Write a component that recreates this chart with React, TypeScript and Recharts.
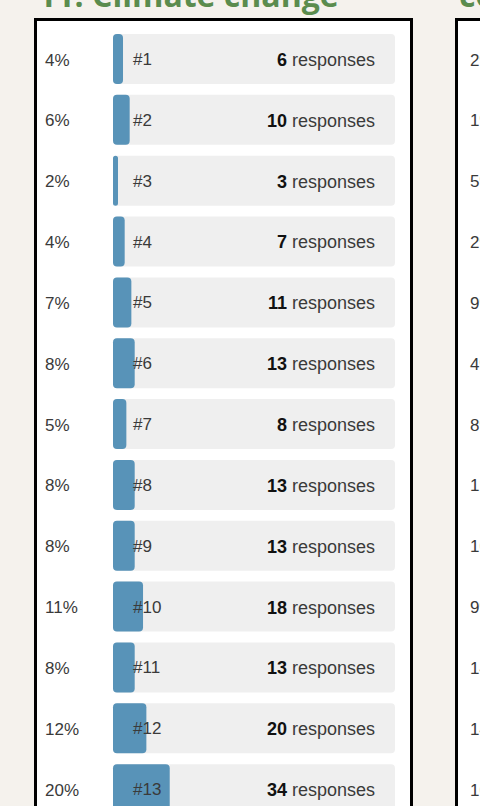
import { BarChart, Bar, XAxis, YAxis, LabelList } from 'recharts'

// rank labels shared by both cards
const ranks = ['#1', '#2', '#3', '#4', '#5', '#6', '#7', '#8', '#9', '#10', '#11', '#12', '#13']

// 11. Climate change
const climatePct = [4, 6, 2, 4, 7, 8, 5, 8, 8, 11, 8, 12, 20]
const climateResponses = [6, 10, 3, 7, 11, 13, 8, 13, 13, 18, 13, 20, 34]

// next card, only its first column is in view
const nextPct = [2, 1, 5, 2, 9, 4, 8, 12, 10, 9, 14, 14, 10]
const nextResponses = [3, 2, 8, 4, 15, 7, 14, 20, 17, 15, 24, 24, 17]

const BAR = '#5893b8'
const TRACK = '#efefef'
const TEXT = '#3a3a3a'
const FONT = '"Liberation Sans", Arial, sans-serif'

interface RankCardProps {
  title: string
  pct: number[]
  responses: number[]
  left: number
  pctX: number
}

function RankCard({ title, pct, responses, left, pctX }: RankCardProps) {
  const total = responses.reduce((a, b) => a + b, 0)
  const data = ranks.map((rank, i) => ({ rank, pct: pct[i], responses: responses[i] }))

  const PctTick = (props: any) => {
    const i = props.index
    return (
      <text x={pctX} y={props.y} dy="0.36em" fill={TEXT} fontSize={17} fontFamily={FONT} textAnchor="start">
        {data[i].pct}%
      </text>
    )
  }

  const RespTick = (props: any) => {
    const i = props.index
    return (
      <text x={props.x} y={props.y} dy="0.36em" fill={TEXT} fontSize={18} fontFamily={FONT} textAnchor="end">
        <tspan fontWeight={700} fill="#111">{data[i].responses}</tspan>
        <tspan> responses</tspan>
      </text>
    )
  }

  return (
    <>
      <div
        style={{
          position: 'absolute',
          left: left + 4,
          top: -21,
          fontFamily: '"Open Sans", sans-serif',
          fontWeight: 700,
          fontSize: 32,
          lineHeight: '32px',
          color: '#5b8c4e',
          whiteSpace: 'nowrap',
        }}
      >
        {title}
      </div>
      <div
        style={{
          position: 'absolute',
          left,
          top: 18,
          width: 373,
          height: 820,
          border: '3px solid #000',
          background: '#fff',
        }}
      >
        <BarChart
          width={373}
          height={799}
          data={data}
          layout="vertical"
          barSize={50}
          margin={{ top: 8, right: 15, bottom: 0, left: 0 }}
        >
          <XAxis type="number" domain={[0, total]} hide />
          <YAxis
            type="category"
            dataKey="rank"
            width={76}
            axisLine={false}
            tickLine={false}
            tick={<PctTick />}
          />
          <YAxis
            yAxisId="resp"
            type="category"
            dataKey="rank"
            orientation="right"
            mirror
            axisLine={false}
            tickLine={false}
            tickSize={0}
            tickMargin={20}
            tick={<RespTick />}
          />
          <Bar
            dataKey="responses"
            fill={BAR}
            radius={4}
            background={{ fill: TRACK, radius: 4 }}
            isAnimationActive={false}
          >
            <LabelList dataKey="rank" position="insideLeft" offset={20} fill={TEXT} fontSize={17} fontFamily={FONT} />
          </Bar>
        </BarChart>
      </div>
    </>
  )
}

export default function App() {
  return (
    <div
      style={{
        position: 'fixed',
        left: 0,
        top: 0,
        width: 480,
        height: 806,
        overflow: 'hidden',
        background: '#f5f2ed',
      }}
    >
      <RankCard title="11. Climate change" pct={climatePct} responses={climateResponses} left={34} pctX={8} />
      <RankCard title="cost of living" pct={nextPct} responses={nextResponses} left={455} pctX={12} />
    </div>
  )
}
